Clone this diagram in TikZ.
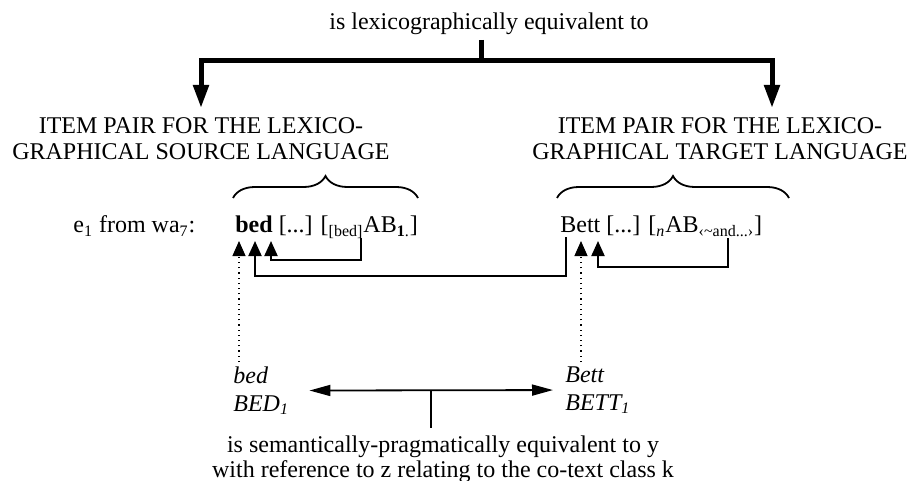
\documentclass[tikz,border=0pt]{standalone}
\usepackage{fontspec}
\setmainfont{Liberation Serif}
\usepackage{tikz}
\usetikzlibrary{positioning}
\usetikzlibrary{arrows.meta,calc}
\usetikzlibrary{decorations.pathreplacing}
\tikzstyle{txt}=[inner sep=0pt,font=\fontsize{12}{13}\selectfont]
\tikzstyle{heading}=[inner xsep=0pt,inner ysep=4.5pt,align=center,anchor=north,font=\fontsize{12}{13}\selectfont]
\tikzstyle{trunk} = [draw,line width=2.5pt]
\tikzstyle{bigarrow} = [draw,line width=2.5pt,-{Triangle[width=7.5pt,length=11.5pt]}]
\tikzstyle{link} = [draw,line width=1pt,-{Triangle[width=6.5pt,length=7.5pt]}]
\tikzstyle{dotlink} = [draw,line width=0.6pt,dotted,-{Triangle[width=6.5pt,length=7.5pt]}]
\tikzstyle{equiv} = [draw,line width=0.9pt,{Triangle[width=5.5pt,length=10.5pt]}-{Triangle[width=5.5pt,length=10.5pt]}]
\tikzset{curly/.style={draw,line width=0.9pt,decorate,decoration={brace,amplitude=11pt}}}

\begin{document}
\begin{tikzpicture}[x=0.5pt,y=-0.5pt]

  \useasboundingbox (0,0) rectangle (911,481);

  % top relation and the two headings
  \node[txt,anchor=base] (lex) at (489,30) {is lexicographically equivalent to};
  \node[heading] (srchead) at (201,108) {ITEM PAIR FOR THE LEXICO-\\GRAPHICAL SOURCE LANGUAGE};
  \node[heading] (tgthead) at (720,108) {ITEM PAIR FOR THE LEXICO-\\GRAPHICAL TARGET LANGUAGE};

  \coordinate (fork) at (481,61);
  \path[trunk] (fork |- 0,40) -- (fork);
  \path[bigarrow] (fork) -| (srchead.north);
  \path[bigarrow] (fork) -| ([xshift=26pt]tgthead.north);

  % the item pair
  \node[txt,anchor=base west] (e1) at (73,233) {e\textsubscript{1} from wa\textsubscript{7}:};
  \node[txt,anchor=base west] (srcitem) at (235,233) {\textbf{bed} [...] [\textsubscript{[bed]}AB\textsubscript{\textbf{1}.}]};
  \node[txt,anchor=base west] (tgtitem) at (560,233) {Bett [...] [\textsubscript{\textit{n}}AB\textsubscript{‹\textasciitilde and...›}]};

  \path[curly] (233,198) -- (418,198);
  \path[curly] (557,198) -- (789,198);

  \foreach \x/\name in {239/a1, 255/a2, 271/a3, 581/b1, 598/b2}
          \coordinate (\name) at (\x,241);

  \foreach \x/\y/\name in {361/238/srcAB, 566/237/bett, 728/238/tgtAB}
          \coordinate (\name) at (\x,\y);

  \foreach \source/ \dest /\drop in {srcAB/a3/22, bett/a2/39, tgtAB/b2/29}
         \path[link] (\source) -- ++(0,\drop) -| (\dest);

  % semantic equivalence
  \node[txt,anchor=north west,align=left,font=\fontsize{12}{14}\selectfont\itshape] (bedsem) at (233,366) {bed\\BED\textsubscript{1}};
  \node[txt,anchor=north west,align=left,font=\fontsize{12}{14}\selectfont\itshape] (bettsem) at (565,366) {Bett\\BETT\textsubscript{1}};
  \node[txt,anchor=north,align=center,font=\fontsize{12}{12.5}\selectfont] (semtext) at (443,435) {is semantically-pragmatically equivalent to y\\with reference to z relating to the co-text class k};

  \path[dotlink] ([yshift=2pt]bedsem.north -| a1) -- (a1);
  \path[dotlink] ([yshift=2pt]bettsem.north -| b1) -- (b1);

  \coordinate (la) at ([xshift=10pt]bedsem.east);
  \coordinate (lb) at ([xshift=-6pt]bettsem.west);
  \coordinate (mid) at ($(la)!0.5!(lb)$);
  \path[equiv] (la) -- (lb);
  \draw[line width=0.9pt] (mid) -- ([yshift=3.5pt]mid |- semtext.north);

\end{tikzpicture}
\end{document}
